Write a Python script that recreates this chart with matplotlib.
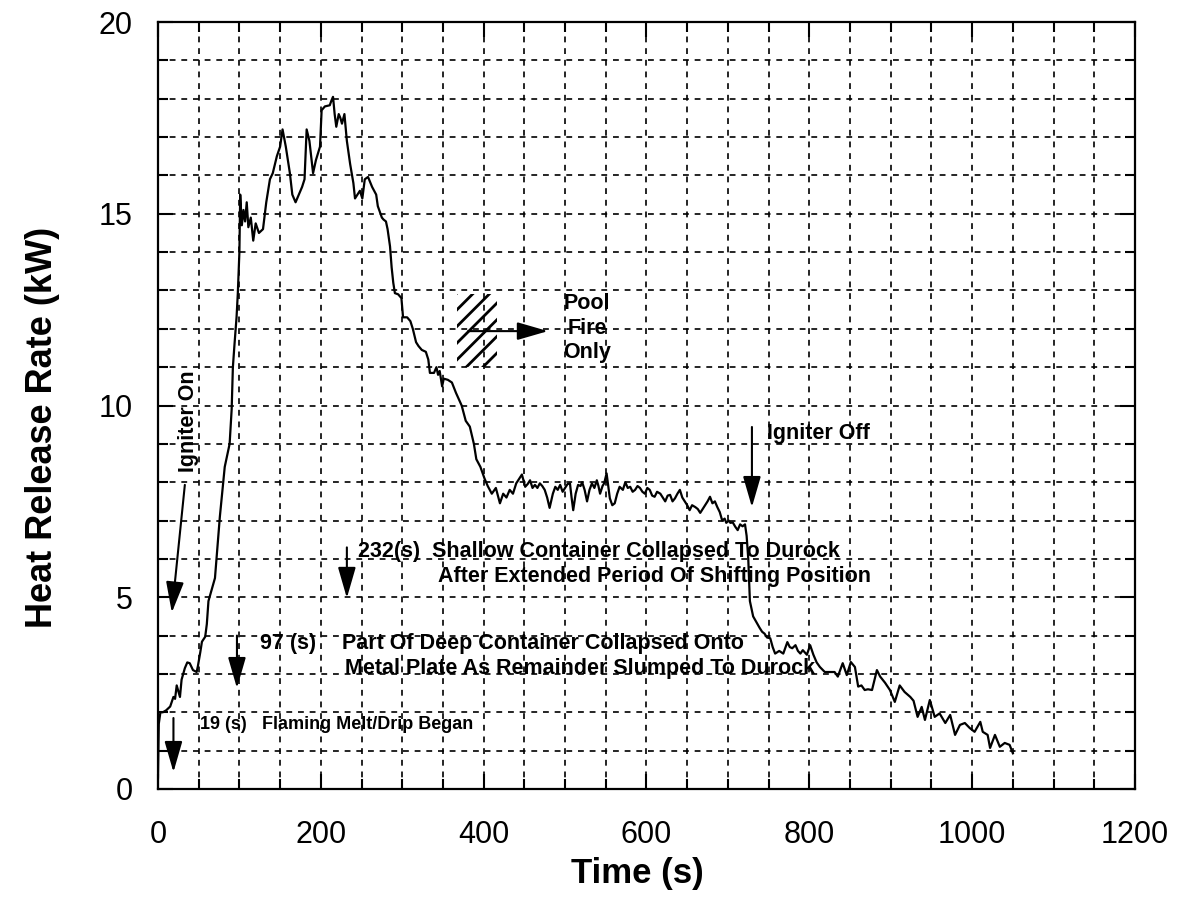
import matplotlib
matplotlib.use("Agg")
import matplotlib.pyplot as plt
from matplotlib.patches import Rectangle
from matplotlib.ticker import MultipleLocator

plt.rcParams['font.family'] = ['Liberation Sans', 'DejaVu Sans']
plt.rcParams['hatch.linewidth'] = 2.0

# heat release rate curve
time_s = [0, 1, 3, 6, 10, 15, 19, 21, 23, 25, 27, 29, 33, 36, 39, 43, 47.5, 49, 52, 54,
          58, 60, 62, 66, 70, 73, 76, 82, 88, 90.5, 92, 94, 96.5, 98, 100, 101, 103, 105,
          107, 109, 111, 114, 117, 120, 124, 129, 133, 137.5, 141, 146, 150, 153, 157,
          162, 165, 169, 173, 177, 180, 182.6, 186, 190.5, 194, 199, 201, 205, 211, 213,
          215, 217, 219, 222, 224, 226, 229, 232, 236, 240, 242, 245, 248, 251, 254, 258,
          263, 268, 270, 275, 277, 280, 282, 285, 287, 289, 291, 295, 299, 301, 306, 310,
          313, 317, 320, 324, 329, 332, 334, 339, 342, 344, 346, 349, 351, 356, 361, 366,
          373, 378, 383, 388, 391, 396, 401, 405, 410, 415, 420, 424, 428, 432, 436, 440,
          447, 451, 454, 457, 460, 463, 466, 469, 472, 475, 478, 481, 485, 488, 491, 494,
          497, 500, 503, 506, 508, 510, 513, 516, 519, 521, 524, 527, 530, 533, 536, 539,
          541, 543, 546, 548, 551, 553, 555, 558, 561, 564, 567, 571, 574, 577, 580, 583,
          586, 589, 592, 595, 598, 601, 604, 607, 610, 613, 617, 620, 623, 626, 629, 632,
          635, 638, 641, 644, 647, 650, 653, 656, 660, 663, 666, 669, 672, 675, 678, 681,
          684, 687, 690, 693, 696, 698, 701, 703, 706, 709, 712, 715, 718, 721, 723, 725,
          727, 729, 731, 735, 739, 742, 745, 748, 752, 755, 758, 763, 768, 773, 776, 779,
          783, 786, 789, 792, 797, 801, 805, 809, 813, 819, 825, 831, 835, 841, 846, 851,
          856, 860, 864, 868, 872, 877, 883, 887, 893, 899, 905, 911, 917, 924, 928, 933,
          938, 942, 948, 954, 960, 967, 973, 979, 985, 991, 997, 1003, 1010, 1013, 1019,
          1022, 1028, 1034, 1040, 1046, 1050]
hrr_kw = [0.3, 1.7, 2.0, 2.0, 2.05, 2.15, 2.4, 2.35, 2.7, 2.55, 2.4, 2.85, 3.15, 3.3, 3.28,
          3.1, 3.05, 3.2, 3.57, 3.84, 3.97, 4.3, 4.9, 5.2, 5.5, 6.3, 7.1, 8.4, 9.0, 9.9,
          11.0, 11.6, 12.3, 12.9, 14.0, 15.5, 14.7, 15.1, 14.8, 15.3, 14.65, 14.9, 14.3,
          14.75, 14.5, 14.6, 15.3, 15.9, 16.06, 16.5, 16.75, 17.2, 16.75, 16.06, 15.5,
          15.3, 15.5, 15.7, 15.9, 17.2, 16.9, 16.06, 16.4, 16.75, 17.7, 17.8, 17.83, 17.95,
          18.05, 17.6, 17.27, 17.6, 17.5, 17.35, 17.6, 16.9, 16.3, 15.8, 15.4, 15.5, 15.6,
          15.4, 15.9, 15.96, 15.7, 15.5, 15.2, 14.9, 14.85, 14.8, 14.6, 14.15, 13.6, 13.2,
          12.93, 12.9, 12.8, 12.3, 12.3, 12.2, 12.0, 11.65, 11.55, 11.45, 11.4, 11.2, 10.85,
          10.85, 11.0, 10.8, 10.9, 10.5, 10.7, 10.67, 10.6, 10.33, 10.0, 9.6, 9.45, 9.0,
          8.6, 8.4, 8.1, 7.9, 7.7, 7.85, 7.45, 7.7, 7.6, 7.8, 7.7, 7.97, 8.2, 7.88, 7.95,
          8.05, 7.85, 7.93, 7.85, 7.97, 7.9, 7.8, 7.6, 7.33, 7.7, 7.88, 7.8, 7.93, 7.75,
          7.85, 7.95, 7.97, 7.6, 7.27, 7.7, 7.93, 7.9, 8.0, 7.8, 7.5, 7.8, 7.97, 7.85, 8.05,
          7.9, 7.7, 7.9, 7.97, 8.23, 7.9, 7.58, 7.4, 7.45, 7.7, 7.88, 7.8, 8.0, 7.85, 7.88,
          7.75, 7.8, 7.9, 7.85, 7.75, 7.7, 7.85, 7.8, 7.65, 7.62, 7.75, 7.7, 7.6, 7.5, 7.65,
          7.67, 7.5, 7.58, 7.7, 7.8, 7.6, 7.5, 7.4, 7.27, 7.4, 7.35, 7.3, 7.2, 7.3, 7.4,
          7.5, 7.62, 7.45, 7.5, 7.35, 7.22, 7.0, 7.05, 6.94, 7.0, 6.94, 6.95, 6.84, 6.75,
          6.9, 6.85, 6.9, 6.6, 6.0, 4.9, 4.7, 4.5, 4.35, 4.2, 4.1, 4.05, 3.95, 3.93, 3.7,
          3.53, 3.6, 3.53, 3.83, 3.7, 3.67, 3.75, 3.6, 3.53, 3.62, 3.5, 3.75, 3.5, 3.3,
          3.18, 3.05, 3.05, 3.05, 2.93, 3.28, 2.97, 3.31, 3.18, 2.67, 2.7, 2.58, 2.6, 2.58,
          3.1, 2.93, 2.77, 2.58, 2.27, 2.7, 2.53, 2.4, 2.3, 1.88, 2.14, 1.8, 2.32, 1.88,
          1.97, 1.72, 1.93, 1.41, 1.67, 1.72, 1.59, 1.49, 1.75, 1.49, 1.41, 1.07, 1.41,
          1.1, 1.2, 1.15, 0.93]

# events marked with arrows (s)
event_times = [19, 97, 232]
igniter_off_t = 729.5

fig = plt.figure(figsize=(11.86, 9.19), dpi=100)
ax = fig.add_axes([0.1332, 0.1415, 0.8238, 0.8345])

ax.plot(time_s, hrr_kw, color='k', lw=1.6, zorder=3)

ax.set_xlim(0, 1200)
ax.set_ylim(0, 20)
ax.xaxis.set_major_locator(MultipleLocator(200))
ax.xaxis.set_minor_locator(MultipleLocator(50))
ax.yaxis.set_major_locator(MultipleLocator(5))
ax.yaxis.set_minor_locator(MultipleLocator(1))
ax.grid(which='both', color='k', lw=1.2, linestyle=(0, (3.5, 3.5)), zorder=1)
ax.tick_params(which='both', direction='in', top=True, right=True, width=1.5)
ax.tick_params(which='major', length=11, labelsize=22)
ax.tick_params(axis='x', which='major', pad=22)
ax.tick_params(axis='y', which='major', pad=18)
ax.tick_params(which='minor', length=7)
for s in ax.spines.values():
    s.set_linewidth(1.6)

ax.set_xlabel('Time (s)', fontsize=25, fontweight='bold')
ax.set_ylabel('Heat Release Rate (kW)', fontsize=26, fontweight='bold')
ax.xaxis.set_label_coords(0.491, -0.089)
ax.yaxis.set_label_coords(-0.100, 0.471)

arr = dict(arrowstyle='-|>,head_length=1.9,head_width=0.55', lw=1.5, color='k',
           shrinkA=0, shrinkB=0)
tb = dict(fontsize=15.5, fontweight='bold', va='center', zorder=4)

# igniter on / off
ax.text(38, 9.6, 'Igniter On', rotation=90, ha='center', **tb)
ax.annotate('', xy=(17, 4.6), xytext=(33, 7.93), arrowprops=arr)
ax.text(748, 9.26, 'Igniter Off', ha='left', **tb)
ax.annotate('', xy=(igniter_off_t, 7.35), xytext=(igniter_off_t, 9.44), arrowprops=arr)

# 232 s
ax.annotate('', xy=(event_times[2], 4.98), xytext=(event_times[2], 6.3), arrowprops=arr)
ax.text(245.6, 6.18, '232(s)  Shallow Container Collapsed To Durock', ha='left', **tb)
ax.text(343.9, 5.55, 'After Extended Period Of Shifting Position', ha='left', **tb)

# 97 s
ax.annotate('', xy=(event_times[1], 2.63), xytext=(event_times[1], 4.0), arrowprops=arr)
ax.text(125.3, 3.8, '97 (s)', ha='left', **tb)
ax.text(226, 3.8, 'Part Of Deep Container Collapsed Onto', ha='left', **tb)
ax.text(229.7, 3.15, 'Metal Plate As Remainder Slumped To Durock', ha='left', **tb)

# 19 s
ax.annotate('', xy=(event_times[0], 0.44), xytext=(event_times[0], 1.85), arrowprops=arr)
ax.text(51.6, 1.67, '19 (s)', ha='left', fontsize=13, fontweight='bold', va='center', zorder=4)
ax.text(127.7, 1.67, 'Flaming Melt/Drip Began', ha='left', fontsize=13,
        fontweight='bold', va='center', zorder=4)

# pool fire region
ax.add_patch(Rectangle((367, 11.0), 50, 1.9, facecolor='none', edgecolor='k',
                       hatch='//', lw=0, zorder=2))
ax.annotate('', xy=(479, 11.94), xytext=(381, 11.94), arrowprops=arr)
ax.text(527, 12.02, 'Pool\nFire\nOnly', ha='center', multialignment='center', **tb)

fig.savefig('out.png', dpi=100)
